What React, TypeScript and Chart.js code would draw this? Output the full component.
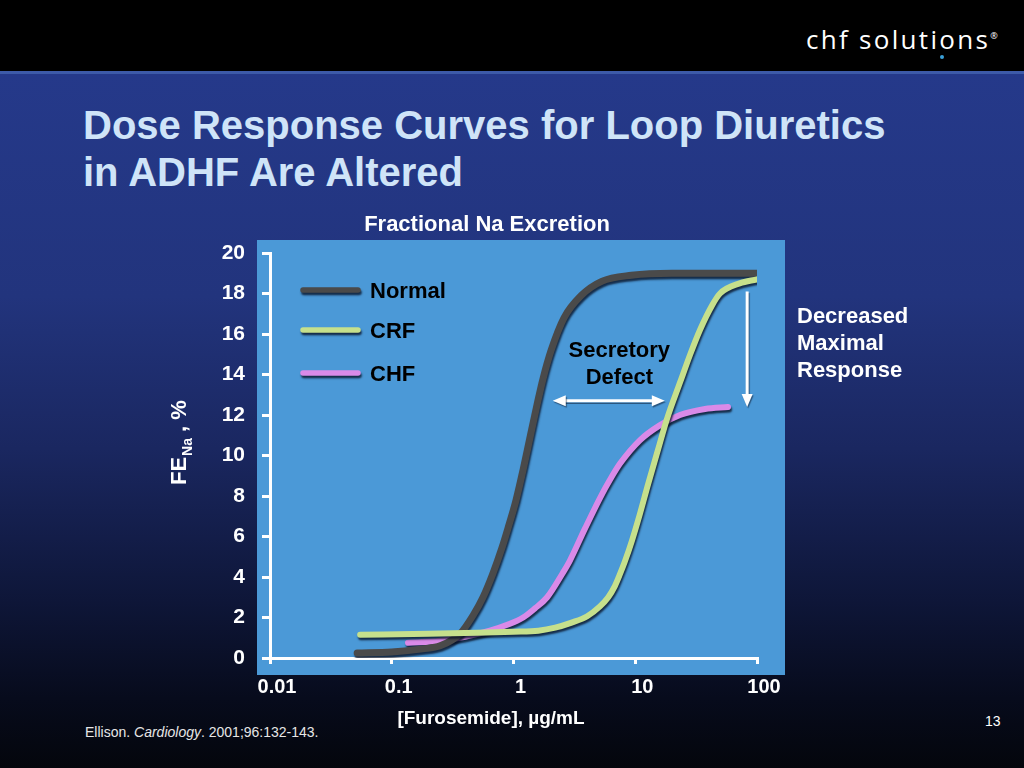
import React, { useEffect, useRef } from "react";
import { Chart, registerables } from "chart.js";

Chart.register(...registerables);

// ---------- data ----------
const seriesNames = ["Normal", "CRF", "CHF"];

const normalDose = [0.052, 0.1, 0.18, 0.25, 0.364, 0.465, 0.562, 0.68, 0.8, 0.9, 1.05, 1.2, 1.39, 1.56, 1.75, 2.04, 2.6, 3.6, 5.3, 9.3, 20, 100];
const normalFE = [0.25, 0.3, 0.45, 0.6, 1.2, 2.1, 3.0, 4.2, 5.4, 6.4, 7.8, 9.3, 11.1, 12.5, 13.8, 15.2, 16.8, 17.9, 18.6, 18.9, 19.0, 19.0];

const crfDose = [0.055, 0.2, 0.5, 1, 1.6, 2.2, 3.0, 4.0, 5.13, 6.0, 6.8, 7.5, 8.2, 9.4, 10.9, 12.7, 15.4, 18.2, 23.3, 28.3, 34, 42.6, 49.7, 72, 100];
const crfFE = [1.15, 1.2, 1.25, 1.3, 1.35, 1.5, 1.75, 2.05, 2.55, 3.0, 3.55, 4.15, 4.75, 5.8, 7.1, 8.55, 10.3, 11.8, 13.6, 15.0, 16.2, 17.4, 18.0, 18.5, 18.7];

const chfDose = [0.136, 0.249, 0.4, 0.64, 0.9, 1.2, 1.5, 1.89, 2.54, 2.9, 3.87, 5.13, 6.2, 7.5, 10.9, 16, 23.3, 37.4, 57.8];
const chfFE = [0.75, 0.85, 1.05, 1.35, 1.65, 2.0, 2.45, 3.0, 4.2, 4.8, 6.4, 7.9, 8.8, 9.6, 10.75, 11.5, 12.0, 12.3, 12.4];

const xTickValues = [0.01, 0.1, 1, 10, 100];
const xTickLabels = ["0.01", "0.1", "1", "10", "100"];
const yMin = 0;
const yMax = 20;
const yStep = 2;

// annotation anchors (data units)
const defectArrowDose = [2.1, 17.5];
const defectArrowFE = 12.7;
const defectLabelDose = 7.4;
const defectLabelFE = [15.2, 13.9];
const defectLabels = ["Secretory", "Defect"];
const maxArrowDose = 83;
const maxArrowFE = [18.1, 12.4];
const sideLabels = ["Decreased", "Maximal", "Response"];

// ---------- style ----------
const FAM = '"Liberation Sans", Arial, Helvetica, sans-serif';
const lineColors = ["#4a4a4a", "#c6e08c", "#d98ae8"];
const lineWidths = [7, 6, 6];

function toPoints(xs: number[], ys: number[]) {
  return xs.map((x, i) => ({ x, y: ys[i] }));
}

function arrowHead(ctx: CanvasRenderingContext2D, x: number, y: number, ang: number) {
  const L = 13;
  const W = 5.5;
  ctx.beginPath();
  ctx.moveTo(x, y);
  ctx.lineTo(x - L * Math.cos(ang) + W * Math.sin(ang), y - L * Math.sin(ang) - W * Math.cos(ang));
  ctx.lineTo(x - L * Math.cos(ang) - W * Math.sin(ang), y - L * Math.sin(ang) + W * Math.cos(ang));
  ctx.closePath();
  ctx.fill();
}

function setShadow(ctx: CanvasRenderingContext2D) {
  ctx.shadowColor = "rgba(8,16,36,0.8)";
  ctx.shadowOffsetX = 1;
  ctx.shadowOffsetY = 2.5;
  ctx.shadowBlur = 2;
}

const slidePlugin = {
  id: "slideDecor",
  beforeDraw(chart: any) {
    const { ctx, chartArea: a } = chart;
    ctx.save();
    ctx.fillStyle = "#4b99d7";
    ctx.fillRect(a.left - 13, a.top - 13, a.right - a.left + 41, a.bottom - a.top + 30);
    ctx.restore();
  },
  beforeDatasetDraw(chart: any) {
    chart.ctx.save();
    setShadow(chart.ctx);
  },
  afterDatasetDraw(chart: any) {
    chart.ctx.restore();
  },
  afterDraw(chart: any) {
    const { ctx, chartArea: a, scales } = chart;
    const xs = scales.x;
    const ys = scales.y;

    // legend
    const rows = [37, 77, 120];
    chart.data.datasets.forEach((ds: any, i: number) => {
      const y = a.top + rows[i];
      ctx.save();
      setShadow(ctx);
      ctx.strokeStyle = ds.borderColor;
      ctx.lineWidth = 5.5;
      ctx.lineCap = "round";
      ctx.beginPath();
      ctx.moveTo(a.left + 33, y);
      ctx.lineTo(a.left + 88, y);
      ctx.stroke();
      ctx.restore();
      ctx.save();
      ctx.fillStyle = "#000";
      ctx.font = `bold 22px ${FAM}`;
      ctx.textBaseline = "middle";
      ctx.textAlign = "left";
      ctx.fillText(ds.label, a.left + 100, y + 2);
      ctx.restore();
    });

    // secretory defect
    ctx.save();
    ctx.fillStyle = "#000";
    ctx.font = `bold 22px ${FAM}`;
    ctx.textAlign = "center";
    ctx.textBaseline = "middle";
    defectLabels.forEach((t, i) => {
      ctx.fillText(t, xs.getPixelForValue(defectLabelDose), ys.getPixelForValue(defectLabelFE[i]) + 1);
    });
    ctx.restore();

    ctx.save();
    ctx.shadowColor = "rgba(10,20,40,0.5)";
    ctx.shadowOffsetX = 1;
    ctx.shadowOffsetY = 1.5;
    ctx.shadowBlur = 1;
    ctx.strokeStyle = "#fff";
    ctx.fillStyle = "#fff";
    ctx.lineWidth = 3;
    const hx1 = xs.getPixelForValue(defectArrowDose[0]);
    const hx2 = xs.getPixelForValue(defectArrowDose[1]);
    const hy = ys.getPixelForValue(defectArrowFE);
    ctx.beginPath();
    ctx.moveTo(hx1 + 10, hy);
    ctx.lineTo(hx2 - 10, hy);
    ctx.stroke();
    arrowHead(ctx, hx1, hy, Math.PI);
    arrowHead(ctx, hx2, hy, 0);
    const vx = xs.getPixelForValue(maxArrowDose);
    const vy1 = ys.getPixelForValue(maxArrowFE[0]);
    const vy2 = ys.getPixelForValue(maxArrowFE[1]);
    ctx.beginPath();
    ctx.moveTo(vx, vy1);
    ctx.lineTo(vx, vy2 - 10);
    ctx.stroke();
    arrowHead(ctx, vx, vy2, Math.PI / 2);
    ctx.restore();

    // texts outside the plot
    ctx.save();
    ctx.fillStyle = "#fff";
    ctx.textBaseline = "middle";
    ctx.font = `bold 22px ${FAM}`;
    ctx.textAlign = "center";
    ctx.fillText("Fractional Na Excretion", a.left + 217, a.top - 28);
    ctx.textAlign = "left";
    sideLabels.forEach((t, i) => {
      ctx.fillText(t, a.right + 40, a.top + 64 + i * 27);
    });
    ctx.font = `bold 19px ${FAM}`;
    ctx.textAlign = "center";
    ctx.fillText("[Furosemide], \u00b5g/mL", a.left + 221, a.bottom + 61);
    ctx.restore();

    // y axis title FE_Na , %
    ctx.save();
    ctx.fillStyle = "#fff";
    ctx.translate(a.left - 84, a.top + 232);
    ctx.rotate(-Math.PI / 2);
    ctx.textBaseline = "alphabetic";
    ctx.textAlign = "left";
    ctx.font = `bold 22px ${FAM}`;
    ctx.fillText("FE", 0, 0);
    let w = ctx.measureText("FE").width + 1;
    ctx.font = `bold 14px ${FAM}`;
    ctx.fillText("Na", w, 6);
    w += ctx.measureText("Na").width;
    ctx.font = `bold 22px ${FAM}`;
    ctx.fillText(" , %", w, 0);
    ctx.restore();
  },
};

export default function App() {
  const ref = useRef<HTMLCanvasElement>(null);

  useEffect(() => {
    if (!ref.current) return;
    Chart.defaults.font.family = FAM;
    const chart = new Chart(ref.current, {
      type: "line",
      data: {
        datasets: [
          { label: seriesNames[0], data: toPoints(normalDose, normalFE), order: 1 },
          { label: seriesNames[1], data: toPoints(crfDose, crfFE), order: 0 },
          { label: seriesNames[2], data: toPoints(chfDose, chfFE), order: 2 },
        ].map((d, i) => ({
          ...d,
          borderColor: lineColors[i],
          backgroundColor: lineColors[i],
          borderWidth: lineWidths[i],
          pointRadius: 0,
          pointHoverRadius: 0,
          fill: false,
          cubicInterpolationMode: "monotone" as const,
          borderCapStyle: "round" as const,
          borderJoinStyle: "round" as const,
        })),
      },
      options: {
        responsive: false,
        animation: false,
        events: [],
        layout: { padding: { left: 0, top: 253, right: 267, bottom: 70 } },
        plugins: {
          legend: { display: false },
          title: { display: false },
          tooltip: { enabled: false },
        },
        scales: {
          x: {
            type: "logarithmic",
            min: xTickValues[0],
            max: xTickValues[xTickValues.length - 1],
            afterBuildTicks: (scale: any) => {
              scale.ticks = xTickValues.map((v) => ({ value: v }));
            },
            afterFit: (scale: any) => {
              scale.height = 40;
            },
            ticks: {
              autoSkip: false,
              maxRotation: 0,
              color: "#fff",
              font: { size: 20, weight: "bold" },
              padding: 11,
              labelOffset: 7,
              callback: (_v: any, i: number) => xTickLabels[i],
            },
            grid: {
              drawOnChartArea: false,
              drawTicks: true,
              tickLength: 6,
              color: "#fff",
              lineWidth: 3,
            },
            border: { display: true, color: "#fff", width: 3 },
          },
          y: {
            type: "linear",
            min: yMin,
            max: yMax,
            afterFit: (scale: any) => {
              scale.width = 270;
            },
            ticks: {
              stepSize: yStep,
              color: "#fff",
              font: { size: 21, weight: "bold" },
              padding: 17,
            },
            grid: {
              drawOnChartArea: false,
              drawTicks: true,
              tickLength: 8,
              color: "#fff",
              lineWidth: 3,
            },
            border: { display: true, color: "#fff", width: 3 },
          },
        },
      },
      plugins: [slidePlugin],
    } as any);
    return () => chart.destroy();
  }, []);

  return (
    <div
      style={{
        position: "absolute",
        left: 0,
        top: 0,
        width: 1024,
        height: 768,
        overflow: "hidden",
        background: "#000",
        fontFamily: FAM,
      }}
    >
      <div
        style={{
          position: "absolute",
          left: 0,
          top: 74,
          width: 1024,
          height: 694,
          background:
            "linear-gradient(to bottom, #25398a 0%, #22347d 32%, #1a2760 54%, #0e1638 76%, #070b1c 90%, #04060c 100%)",
        }}
      />
      <div style={{ position: "absolute", left: 0, top: 71, width: 1024, height: 3, background: "#3d5aa8" }} />
      <div
        style={{
          position: "absolute",
          left: 806,
          top: 16,
          color: "#fff",
          fontFamily: '"Open Sans", "Noto Sans", sans-serif',
          fontSize: 26,
          lineHeight: "40px",
          letterSpacing: 2.3,
          whiteSpace: "nowrap",
        }}
      >
        <span style={{ fontWeight: 500 }}>chf</span> <span style={{ fontWeight: 400 }}>solutions</span>
        <sup style={{ fontSize: 9, letterSpacing: 0 }}>®</sup>
      </div>
      <div style={{ position: "absolute", left: 940, top: 55, width: 4, height: 4, borderRadius: 2, background: "#3aa0d8" }} />
      <div
        style={{
          position: "absolute",
          left: 83,
          top: 102,
          color: "#cfe4f8",
          fontSize: 40,
          fontWeight: "bold",
          lineHeight: "47px",
          whiteSpace: "nowrap",
        }}
      >
        Dose Response Curves for Loop Diuretics
        <br />
        in ADHF Are Altered
      </div>
      <div
        style={{
          position: "absolute",
          left: 85,
          top: 724,
          color: "#e6e6e6",
          fontSize: 14,
          lineHeight: "16px",
          whiteSpace: "nowrap",
        }}
      >
        Ellison. <i>Cardiology</i>. 2001;96:132-143.
      </div>
      <div
        style={{
          position: "absolute",
          left: 985,
          top: 713,
          color: "#fff",
          fontSize: 14,
          lineHeight: "16px",
        }}
      >
        13
      </div>
      <canvas ref={ref} width={1024} height={768} style={{ position: "absolute", left: 0, top: 0 }} />
    </div>
  );
}
